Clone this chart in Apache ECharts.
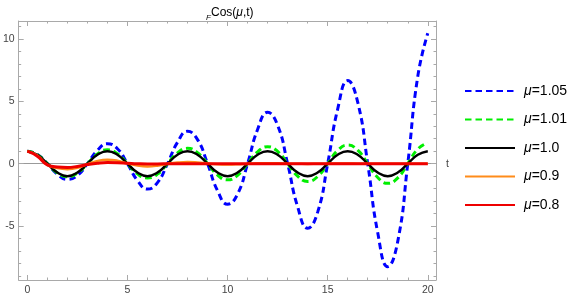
<!DOCTYPE html>
<html>
<head>
<meta charset="utf-8">
<script src="https://cdn.jsdelivr.net/npm/echarts@6/dist/echarts.min.js"></script>
<style>
html,body{margin:0;padding:0;background:#fff;}
#chart{width:581px;height:299px;}
</style>
</head>
<body>
<div id="chart"></div>
<script>
// ---- data ----
const tValues = [0,0.5,1,1.5,2,2.5,3,3.5,4,4.5,5,5.5,6,6.5,7,7.5,8,8.5,9,9.5,10,10.5,11,11.5,12,12.5,13,13.5,14,14.5,15,15.5,16,16.5,17,17.5,18,18.5,19,19.5,20];
const seriesNames = ['μ=1.05','μ=1.01','μ=1.0','μ=0.9','μ=0.8'];
const mu105 = [1,0.74,0,-0.85,-1.26,-0.95,0,1.07,1.6,1.2,0,-1.35,-2.04,-1.52,0,1.71,2.6,1.93,0,-2.17,-3.25,-2.44,0,2.74,4.12,3.08,0,-3.46,-5.18,-3.89,0,4.38,6.66,4.93,0,-5.54,-8.26,-6.23,0,7.0,10.46];
const mu101 = [1,0.72,0,-0.74,-1.05,-0.76,0,0.78,1.11,0.8,0,-0.82,-1.15,-0.84,0,0.86,1.23,0.88,0,-0.91,-1.3,-0.93,0,0.95,1.36,0.98,0,-1.0,-1.43,-1.03,0,1.06,1.49,1.08,0,-1.11,-1.58,-1.14,0,1.17,1.67];
const mu100 = [1,0.71,0,-0.71,-1,-0.71,0,0.71,1,0.71,0,-0.71,-1,-0.71,0,0.71,1,0.71,0,-0.71,-1,-0.71,0,0.71,1,0.71,0,-0.71,-1,-0.71,0,0.71,1,0.71,0,-0.71,-1,-0.71,0,0.71,1];
const mu090 = [1,0.66,-0.1,-0.36,-0.44,-0.34,-0.04,0.22,0.32,0.24,0.02,-0.15,-0.22,-0.16,-0.01,0.09,0.13,0.09,0.01,-0.05,-0.07,-0.05,0,0.03,0.04,0.03,0,-0.01,-0.02,-0.01,0,0.01,0.01,0,0,0,0,0,0,0,0];
const mu080 = [1,0.6,-0.1,-0.27,-0.3,-0.22,-0.07,0.04,0.09,0.08,0.04,0,-0.02,-0.02,-0.01,0,0,0,0,0,0,0,0,0,0,0,0,0,0,0,0,0,0,0,0,0,0,0,0,0,0];
const xMajor = [0,5,10,15,20];
const xMinor = [0,1,2,3,4,5,6,7,8,9,10,11,12,13,14,15,16,17,18,19,20];
const yMajor = [-5,0,5,10];
const yMinor = [-9,-8,-7,-6,-5,-4,-3,-2,-1,0,1,2,3,4,5,6,7,8,9,10,11];

// ---- chart ----
const X_MIN = -0.432, X_MAX = 20.41, Y_MIN = -9.33, Y_MAX = 11.44;
const FRAME = '#a9a9a9';
const LABEL = '#444';
const FONT = 'Liberation Sans';

function pairs(ys){ return tValues.map((t,i)=>[t, ys[i]]); }

function axis(base, extra){
  return Object.assign({
    type:'value', splitLine:{show:false},
    axisLine:{show:false, onZero:false},
    axisTick:{show:false}, axisLabel:{show:false}
  }, base, extra);
}
const xb = {min:X_MIN, max:X_MAX};
const yb = {min:Y_MIN, max:Y_MAX};
const lineFrame = {show:true, onZero:false, lineStyle:{color:FRAME, width:1}};
const tickMaj = (vals)=>({show:true, inside:true, length:5, customValues:vals, lineStyle:{color:FRAME, width:1}});
const tickMin = (vals)=>({show:true, inside:true, length:2.5, customValues:vals, lineStyle:{color:FRAME, width:1}});

const chart = echarts.init(document.getElementById('chart'), null, {renderer:'canvas'});
chart.setOption({
  animation:false,
  backgroundColor:'#fff',
  grid:{left:16, right:145, top:21, bottom:19, containLabel:false},
  xAxis:[
    axis(xb,{position:'bottom', axisLine:lineFrame, axisTick:tickMaj(xMajor),
      axisLabel:{show:true, customValues:xMajor, margin:5, fontSize:10.5, fontFamily:FONT, color:LABEL}}),
    axis(xb,{position:'bottom', axisTick:tickMin(xMinor)}),
    axis(xb,{position:'top', axisLine:lineFrame, axisTick:tickMaj(xMajor)}),
    axis(xb,{position:'top', axisTick:tickMin(xMinor)}),
    axis(xb,{position:'bottom', axisLine:{show:true, onZero:true, lineStyle:{color:'#9a9a9a', width:1}}})
  ],
  yAxis:[
    axis(yb,{position:'left', axisLine:lineFrame, axisTick:tickMaj(yMajor),
      axisLabel:{show:true, customValues:yMajor, margin:4, fontSize:10.5, fontFamily:FONT, color:LABEL}}),
    axis(yb,{position:'left', axisTick:tickMin(yMinor)}),
    axis(yb,{position:'right', axisLine:lineFrame, axisTick:tickMaj(yMajor)}),
    axis(yb,{position:'right', axisTick:tickMin(yMinor)})
  ],
  legend:{
    orient:'vertical', left:464, top:84, padding:0, itemWidth:50, itemHeight:14, itemGap:14.5,
    data:seriesNames,
    itemStyle:{color:'rgba(0,0,0,0)', borderWidth:0, opacity:0},
    formatter:(n)=>'{i|μ}{n|'+n.slice(1)+'}',
    textStyle:{fontSize:14, fontFamily:FONT, color:'#000', padding:[0,0,0,4],
      rich:{i:{fontStyle:'italic', fontSize:14, fontFamily:FONT, color:'#000'}, n:{fontSize:14, fontFamily:FONT, color:'#000'}}}
  },
  graphic:[
    {type:'text', x:206, y:13.5, silent:true, style:{text:'F', fontSize:8, fontStyle:'italic', fontFamily:FONT, fill:'#000', verticalAlign:'top'}},
    {type:'text', x:211, y:7, silent:true, style:{text:'{n|Cos(}{i|μ}{n|,t)}', verticalAlign:'top',
      rich:{n:{fontSize:12, fontFamily:FONT, fill:'#000'}, i:{fontSize:12, fontStyle:'italic', fontFamily:FONT, fill:'#000'}}}},
    {type:'text', x:446, y:164, silent:true, style:{text:'t', fontSize:10.5, fontFamily:FONT, fill:'#444', verticalAlign:'middle'}}
  ],
  series:[
    {name:seriesNames[0], type:'line', smooth:true, symbol:'none', data:pairs(mu105), lineStyle:{color:'#0000ff', width:3, type:[6.5,4]}, itemStyle:{color:'#0000ff'}},
    {name:seriesNames[1], type:'line', smooth:true, symbol:'none', data:pairs(mu101), lineStyle:{color:'#00ee00', width:3, type:[6.5,4]}, itemStyle:{color:'#00ee00'}},
    {name:seriesNames[2], type:'line', smooth:true, symbol:'none', data:pairs(mu100), lineStyle:{color:'#000000', width:2.5}, itemStyle:{color:'#000000'}},
    {name:seriesNames[3], type:'line', smooth:true, symbol:'none', data:pairs(mu090), lineStyle:{color:'#ff8c1a', width:2.5}, itemStyle:{color:'#ff8c1a'}},
    {name:seriesNames[4], type:'line', smooth:true, symbol:'none', data:pairs(mu080), lineStyle:{color:'#ee0000', width:3}, itemStyle:{color:'#ee0000'}}
  ]
});
</script>
</body>
</html>
